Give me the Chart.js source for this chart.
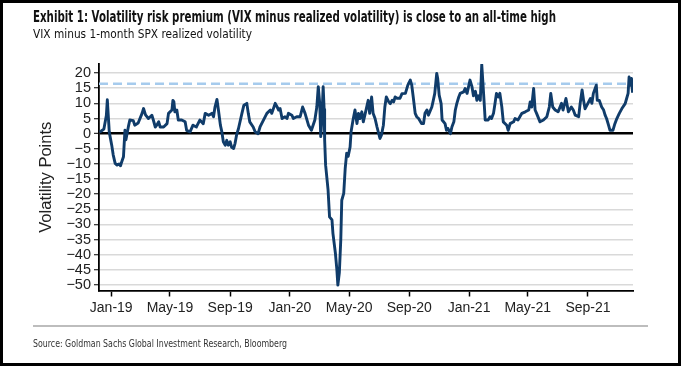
<!DOCTYPE html>
<html><head><meta charset="utf-8">
<script src="https://cdn.jsdelivr.net/npm/chart.js@4.4.1/dist/chart.umd.min.js"></script>
<style>
html,body{margin:0;padding:0;background:#fff;}
#wrap{position:absolute;left:0;top:0;width:681px;height:366px;}
#frame{position:absolute;left:0;top:0;width:681px;height:366px;box-sizing:border-box;border:3px solid #000;pointer-events:none;}
.txt{position:absolute;white-space:nowrap;transform-origin:0 50%;font-family:"Liberation Sans Narrow","DejaVu Sans Condensed","Liberation Sans",Arial,sans-serif;line-height:1;}
#title{left:33px;top:10px;font-size:15px;font-weight:bold;color:#111;}
#subtitle{left:33px;top:27px;font-size:13px;color:#111;}
#source{left:33px;top:338px;font-size:11px;color:#333;}
#sep{position:absolute;left:33px;top:325px;width:615px;height:2px;background:#bdbdbd;}
</style></head>
<body>
<div id="wrap"><canvas id="c" width="681" height="366"></canvas></div>
<div class="txt" id="title">Exhibit 1: Volatility risk premium (VIX minus realized volatility) is close to an all-time high</div>
<div class="txt" id="subtitle">VIX minus 1-month SPX realized volatility</div>
<div id="sep"></div>
<div class="txt" id="source">Source: Goldman Sachs Global Investment Research, Bloomberg</div>
<div id="frame"></div>
<script>
// Days since 1 Jan 2019
const dayOffsets = [-24,-21,-15,-10,-8,-4,1,4,8,12,16,19,21,25,28,30,35,38,45,48,55,63,66,70,76,83,86,90,93,97,100,107,114,117,124,126,128,130,134,137,144,151,154,161,167,174,181,188,192,199,206,209,212,216,219,223,226,229,233,236,239,243,246,250,253,256,260,267,271,277,280,283,290,294,300,304,311,318,325,328,335,339,342,345,349,355,359,362,369,372,379,386,391,396,403,409,416,420,423,426,428,430,433,435,436,438,443,446,451,453,458,461,463,466,469,471,475,478,481,484,488,490,494,498,502,505,508,512,515,519,525,528,532,535,539,543,549,552,556,559,562,567,570,574,577,580,584,590,594,601,606,611,614,617,621,624,628,634,638,641,645,648,655,658,661,665,667,670,674,676,682,685,688,693,696,700,703,706,710,713,720,723,727,733,737,740,744,747,750,754,757,759,762,764,770,774,777,781,784,787,791,794,798,801,808,811,815,822,825,831,839,846,853,856,859,863,866,869,876,883,890,895,898,902,907,913,920,923,929,934,940,944,948,955,958,962,965,968,972,979,982,985,991,993,997,1002,1006,1009,1012,1016,1019,1025,1029,1033,1038,1043,1050,1053,1056,1058,1061,1063,1065];
// VIX minus 1-month SPX realized volatility (volatility points)
const vrpValues = [0.5,0.8,1.5,6,11.2,0.5,-3.8,-7,-9.8,-10.4,-10,-10.6,-9.5,-7.6,1.1,-2,2.3,4.5,4.3,2.8,3.5,6.7,8.3,6.2,5,6.1,4.5,2.2,2.8,3.9,2.2,2.2,3.3,6.7,7.8,11,10.5,7.2,7.8,4.5,4.5,3.9,1.1,0.6,2.8,2.2,4.5,3.3,6.7,6.1,6.7,5.6,8.8,11.3,7.8,2.8,0.6,-2.7,-3.8,-2.2,-3.8,-2.7,-4.5,-4.9,-3.2,-0.5,1.7,6.7,9.4,10,6.7,3.9,2.2,0.6,0,2.2,4.5,6.7,7.8,6.7,10,8.8,7.8,8.3,5,5.6,5,6.7,6.1,5,5.6,5.6,8.8,6.7,2.8,1.1,4.5,8.8,15.5,9.9,-1,4,15.5,8,-2,-10.4,-18.6,-27.5,-28.5,-33,-39.5,-45,-50,-46,-35,-22,-19.7,-11.5,-6.5,-7.5,-4.4,0.6,4.5,7.8,3.3,6.7,5,7.2,3.9,6.7,11,6.7,12.1,6.7,5,2.2,-1.6,-0.5,2.8,8.8,12.1,10.5,9.9,11,10.5,12.1,11.7,11.7,13.2,13.3,16,17.7,16,12.1,6.7,5.6,5,3.3,3.3,6.7,7.8,6.1,8.8,11,13.3,19.9,18.2,12.7,9.9,4.5,3.3,1.1,1.7,0,2.2,3.9,7.8,9.9,12.1,13.3,13.8,14.9,13.3,17.7,15.5,12.5,14,11,12.5,11,22.8,17.7,9.9,4.5,4.5,5.6,5,6.7,9.9,13.3,12.1,13.3,8.8,3.9,2.8,1.1,3.3,3.9,5,4.5,6.7,7.2,7.8,10.5,8.8,14.9,7.8,6.7,3.9,4.5,5.6,8.8,13.3,8.8,7.8,7.2,10,7.8,11.6,7.2,8.8,7.8,6.1,5.6,9.9,14.4,11,8.2,9.4,11.6,10,13.3,16,11,11,8.8,7.8,6.1,5,2.8,1.1,1.1,3.3,5,6.7,8.2,9.9,11.6,13.3,18.7,16,18.2,13.5];
const refLevel = 16.5; // dashed reference level
const tickDates = ['2019-01-01','2019-05-01','2019-09-01','2020-01-01','2020-05-01','2020-09-01','2021-01-01','2021-05-01','2021-09-01'];
const tickLabels = ['Jan-19','May-19','Sep-19','Jan-20','May-20','Sep-20','Jan-21','May-21','Sep-21'];
const yTicks = [20,15,10,5,0,-5,-10,-15,-20,-25,-30,-35,-40,-45,-50];

const base = Date.UTC(2019,0,1);
const tickDays = tickDates.map(s => Math.round((Date.parse(s + 'T00:00:00Z') - base) / 86400000));
const xMin = -25, xMax = 1066;
const seriesPts = dayOffsets.map((d, i) => ({x: d, y: vrpValues[i]}));
const refPts = [{x: xMin, y: refLevel}, {x: xMax, y: refLevel}];

const fontFam = '"Liberation Sans", Arial, sans-serif';
new Chart(document.getElementById('c'), {
  type: 'line',
  data: {datasets: [
    {data: seriesPts, borderColor: '#103c6a', borderWidth: 2.9, pointRadius: 0, tension: 0, borderJoinStyle: 'round', order: 0},
    {data: refPts, borderColor: '#a6cbed', borderWidth: 2.5, borderDash: [9, 5], pointRadius: 0, order: 1}
  ]},
  options: {
    responsive: false, animation: false,
    layout: {padding: {top: 64, right: 48, left: 0, bottom: 0}},
    plugins: {legend: {display: false}, tooltip: {enabled: false}},
    scales: {
      x: {
        type: 'linear', min: xMin, max: xMax,
        afterBuildTicks: s => { s.ticks = tickDays.map(v => ({value: v})); },
        afterFit: s => { s.height = 75.5; },
        ticks: {autoSkip: false, maxRotation: 0, padding: 3, color: '#222', font: {family: fontFam, size: 14},
          callback: (v) => { const i = tickDays.indexOf(v); return i >= 0 ? tickLabels[i] : ''; }},
        grid: {drawOnChartArea: false, drawTicks: true, tickLength: 6, tickColor: '#000', tickWidth: 1.5},
        border: {display: true, color: '#000', width: 1.8}
      },
      y: {
        min: -51.8, max: 23,
        afterBuildTicks: s => { s.ticks = yTicks.map(v => ({value: v})); },
        afterFit: s => { s.width = 99; },
        ticks: {autoSkip: false, padding: 3, color: '#222', font: {family: fontFam, size: 14.5},
          callback: v => (v < 0 ? '\u2212' + Math.abs(v) : String(v))},
        grid: {
          color: c => (c.tick && c.tick.value === 0 ? '#000' : '#d9d9d9'),
          lineWidth: c => (c.tick && c.tick.value === 0 ? 2.6 : 1.5),
          drawTicks: true, tickLength: 5, tickColor: '#000', tickWidth: 1
        },
        border: {display: true, color: '#000', width: 1.8},
        title: {display: true, text: 'Volatility Points', color: '#222', font: {family: fontFam, size: 16.5}, padding: {top: 37, bottom: 0}}
      }
    }
  }
});

function fitWidth(id, w) {
  const el = document.getElementById(id);
  const nat = el.getBoundingClientRect().width;
  if (nat > 0) el.style.transform = 'scaleX(' + (w / nat) + ')';
}
fitWidth('title', 523);
fitWidth('subtitle', 219);
fitWidth('source', 254);
</script>
</body></html>
